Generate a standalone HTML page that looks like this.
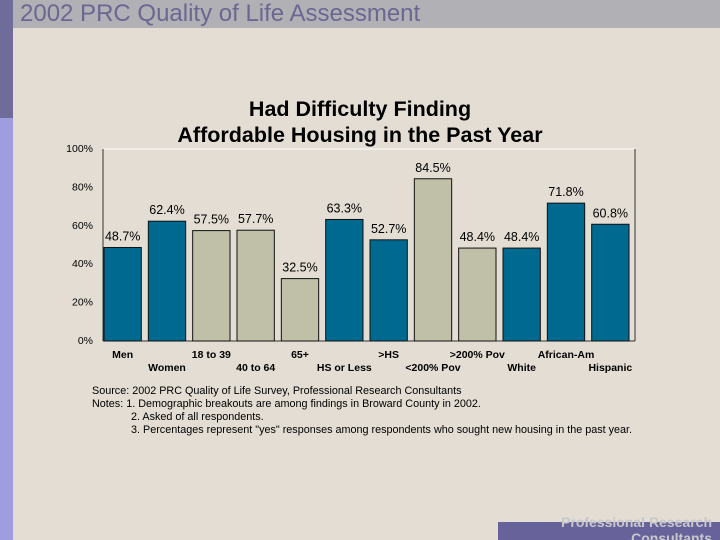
<!DOCTYPE html>
<html style="overflow:hidden"><head><meta charset="utf-8"><style>
html,body{margin:0;width:720px;height:540px;overflow:hidden}
body{background:#e3ddd3;font-family:"Liberation Sans",sans-serif;position:relative}
.abs{position:absolute}
</style></head><body>
<div class="abs" style="left:0;top:0;width:720px;height:540px;overflow:hidden">
<div class="abs" style="left:0;top:0;width:720px;height:28px;background:#b1b0b5"></div>
<div class="abs" style="left:0;top:0;width:13px;height:118px;background:#706c9a"></div>
<div class="abs" style="left:0;top:118px;width:13px;height:422px;background:#a09ce0"></div>
<div class="abs" style="left:20px;top:0px;font-size:24px;color:#6a6792;white-space:nowrap">2002 PRC Quality of Life Assessment</div>
<div class="abs" style="left:498px;top:522px;width:222px;height:18px;background:#67639a"></div>
<div class="abs" style="right:8px;top:514px;font-size:14px;font-weight:bold;color:#c8c8cc;text-align:right;line-height:16px;white-space:nowrap">Professional Research<br>Consultants</div>
<svg class="abs" style="left:0;top:0" width="720" height="540">
<g id="g"></g>
</svg>
</div>
<script>
const categories=["Men","Women","18 to 39","40 to 64","65+","HS or Less",">HS","<200% Pov",">200% Pov","White","African-Am","Hispanic"];
const values=[48.7,62.4,57.5,57.7,32.5,63.3,52.7,84.5,48.4,48.4,71.8,60.8];
const valueLabels=["48.7%","62.4%","57.5%","57.7%","32.5%","63.3%","52.7%","84.5%","48.4%","48.4%","71.8%","60.8%"];
const seriesColor=["b","b","g","g","g","b","b","g","g","b","b","b"];
const ticks=[0,20,40,60,80,100];
const NS="http://www.w3.org/2000/svg",g=document.getElementById('g');
const x0=103,x1=635,yTop=149,yBot=341;
const y=v=>yBot-(v/100)*(yBot-yTop);
const slot=(x1-x0)/categories.length;
const xs=i=>x0+i*slot;
function el(t,a,txt){const e=document.createElementNS(NS,t);for(const k in a)e.setAttribute(k,a[k]);if(txt!==undefined)e.textContent=txt;g.appendChild(e);return e;}
let t;
t=el('text',{x:360,y:116,'text-anchor':'middle','font-size':21.5,'font-weight':'bold',fill:'#000'},'Had Difficulty Finding');

t=el('text',{x:360,y:142,'text-anchor':'middle','font-size':21.5,'font-weight':'bold',fill:'#000'},'Affordable Housing in the Past Year');

t=el('line',{x1:x0,y1:yTop,x2:x1,y2:yTop,stroke:'#fff','stroke-width':1});

t=el('line',{x1:x1,y1:yTop,x2:x1,y2:yBot,stroke:'#333','stroke-width':1});

t=el('line',{x1:x0,y1:yTop,x2:x0,y2:yBot,stroke:'#333','stroke-width':1});

t=el('line',{x1:x0,y1:yBot,x2:x1,y2:yBot,stroke:'#333','stroke-width':1});

ticks.forEach(v=>{
 t=el('text',{x:93,y:y(v)+3,'text-anchor':'end','font-size':10.5,fill:'#000'},v+'%');
 
});
values.forEach((v,i)=>{
 const bx=xs(i)+1,bw=slot-7;
 t=el('rect',{x:bx,y:y(v),width:bw,height:yBot-y(v),fill:seriesColor[i]=='b'?'#006990':'#c0bfa8',stroke:'#111','stroke-width':1});
 
 t=el('text',{x:bx+bw/2,y:y(v)-7,'text-anchor':'middle','font-size':12.5,fill:'#000'},valueLabels[i]);
 
 t=el('text',{x:bx+bw/2,y:i%2==0?358:371,'text-anchor':'middle','font-size':10.5,'font-weight':'bold',fill:'#000'},categories[i]);
 
});
const notes=[[92,"Source: 2002 PRC Quality of Life Survey, Professional Research Consultants"],[92,"Notes:   1. Demographic breakouts are among findings in Broward County in 2002."],[131,"2. Asked of all respondents."],[131,"3.  Percentages represent \"yes\" responses among respondents who sought new housing in the past year."]];
notes.forEach((n,i)=>{
 t=el('text',{x:n[0],y:394+i*13,'font-size':10.8,fill:'#000'},n[1]);
 
});
</script>
</body></html>
